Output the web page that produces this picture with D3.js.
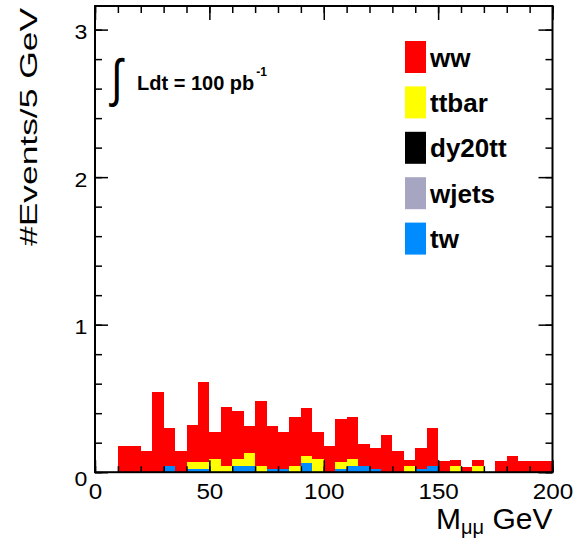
<!DOCTYPE html>
<html>
<head>
<meta charset="utf-8" />
<title>M mumu stack</title>
<script src="https://d3js.org/d3.v7.min.js"></script>
<style>
  body { margin: 0; background: #fff; }
  svg text { font-family: "Liberation Sans", Arial, Helvetica, sans-serif; fill: #000; }
</style>
</head>
<body>
<svg id="plot" width="581" height="546"></svg>
<script>
// 5 GeV bins from 0 to 200 GeV
var binWidth = 5;
var binLow = d3.range(0, 200, binWidth);

// events per bin
var ww     = [0, 0, 0.18, 0.18, 0.146, 0.546, 0.258, 0.146, 0.25, 0.54,
              0.18, 0.40, 0.328, 0.18, 0.439, 0.29, 0.255, 0.328, 0.325, 0.183,
              0.18, 0.289, 0.286, 0.147, 0.146, 0.254, 0.146, 0.039, 0.146, 0.256,
              0.074, 0.039, 0.037, 0.039, 0, 0.074, 0.11, 0.074, 0.074, 0.074];
var ttbar  = [0, 0, 0, 0, 0, 0, 0, 0, 0.05, 0.05,
              0.09, 0.044, 0.043, 0.086, 0.044, 0, 0, 0.044, 0.046, 0.087,
              0, 0.049, 0.048, 0, 0, 0, 0, 0.044, 0, 0,
              0, 0.044, 0, 0.044, 0, 0, 0, 0, 0, 0];
var dy20tt = [0, 0, 0, 0, 0, 0, 0, 0, 0, 0,
              0, 0, 0, 0, 0, 0, 0, 0, 0, 0,
              0, 0, 0, 0, 0, 0, 0, 0, 0, 0,
              0, 0, 0, 0, 0, 0, 0, 0, 0, 0];
var wjets  = [0, 0, 0, 0, 0, 0, 0, 0, 0, 0,
              0, 0, 0, 0, 0, 0, 0, 0, 0, 0,
              0, 0, 0, 0, 0, 0, 0, 0, 0, 0,
              0, 0, 0, 0, 0, 0, 0, 0, 0, 0];
var tw     = [0, 0, 0, 0, 0, 0, 0.042, 0, 0.02, 0.02,
              0, 0, 0.044, 0.044, 0, 0.02, 0.02, 0, 0.062, 0,
              0, 0.02, 0.042, 0.042, 0.02, 0, 0, 0, 0.02, 0.042,
              0, 0, 0, 0, 0, 0, 0, 0, 0, 0];

var stackKeys  = ["tw", "wjets", "dy20tt", "ttbar", "ww"];   // bottom -> top
var legendKeys = ["ww", "ttbar", "dy20tt", "wjets", "tw"];
var series = {ww: ww, ttbar: ttbar, dy20tt: dy20tt, wjets: wjets, tw: tw};
var colors = {ww: "#ff0000", ttbar: "#ffff00", dy20tt: "#000000", wjets: "#a7a6c2", tw: "#008cff"};

var xTicks = [0, 50, 100, 150, 200];
var yTicks = [0, 1, 2, 3];

var svg = d3.select("#plot");
// note: "top" is a reserved window global, so use pad* names
var padL = 95, padR = 552.5, padT = 6, padB = 472.2;

var x = d3.scaleLinear().domain([0, 200]).range([padL, padR]);
var y = d3.scaleLinear().domain([0, 3.16]).range([padB, padT]);

var table = binLow.map(function(lo, i) {
    var row = {lo: lo};
    stackKeys.forEach(function(k) { row[k] = series[k][i]; });
    return row;
});
var stacked = d3.stack().keys(stackKeys)(table);

svg.append("g").selectAll("g")
    .data(stacked)
    .enter().append("g")
    .attr("fill", function(s) { return colors[s.key]; })
    .selectAll("rect")
    .data(function(s) { return s; })
    .enter().append("rect")
    .attr("x", function(d) { return x(d.data.lo); })
    .attr("width", function(d) { return x(d.data.lo + binWidth) - x(d.data.lo); })
    .attr("y", function(d) { return y(d[1]); })
    .attr("height", function(d) { return y(d[0]) - y(d[1]); })
    .attr("shape-rendering", "crispEdges");

// axes, ROOT style: ticks inside the frame on all four sides
function styleAxis(g) {
    g.select(".domain").remove();
    g.selectAll("line").attr("stroke", "#000").attr("stroke-width", 1.5);
}
var xMinor = d3.range(0, 201, 10);
var yMinor = d3.range(0, 3.16, 0.2);

svg.append("g").attr("transform", "translate(0," + padB + ")")
    .call(d3.axisBottom(x).tickValues(xMinor).tickSize(-6).tickFormat("")).call(styleAxis);
svg.append("g").attr("transform", "translate(0," + padT + ")")
    .call(d3.axisTop(x).tickValues(xMinor).tickSize(-7).tickFormat("")).call(styleAxis);
svg.append("g").attr("transform", "translate(0," + padT + ")")
    .call(d3.axisTop(x).tickValues(xTicks).tickSize(-14).tickFormat("")).call(styleAxis);
var xAxis = svg.append("g").attr("transform", "translate(0," + padB + ")")
    .call(d3.axisBottom(x).tickValues(xTicks).tickSize(-12).tickFormat(d3.format("d")))
    .call(styleAxis);
xAxis.selectAll("text")
    .attr("y", 27).attr("dy", null)
    .attr("font-size", 22)
    .attr("transform", "scale(1.1,1)");

svg.append("g").attr("transform", "translate(" + padL + ",0)")
    .call(d3.axisLeft(y).tickValues(yMinor).tickSize(-7).tickFormat("")).call(styleAxis);
svg.append("g").attr("transform", "translate(" + padR + ",0)")
    .call(d3.axisRight(y).tickValues(yMinor).tickSize(-7).tickFormat("")).call(styleAxis);
svg.append("g").attr("transform", "translate(" + padR + ",0)")
    .call(d3.axisRight(y).tickValues(yTicks).tickSize(-14).tickFormat("")).call(styleAxis);
var yAxis = svg.append("g").attr("transform", "translate(" + padL + ",0)")
    .call(d3.axisLeft(y).tickValues(yTicks).tickSize(-13).tickFormat(d3.format("d")))
    .call(styleAxis);
yAxis.selectAll("text")
    .attr("x", -7).attr("dy", function(d) { return d === 0 ? 13 : 9; })
    .attr("font-size", 21)
    .attr("transform", "scale(1.1,1)");

// frame
svg.append("rect")
    .attr("x", padL).attr("y", padT)
    .attr("width", padR - padL).attr("height", padB - padT)
    .attr("fill", "none").attr("stroke", "#000").attr("stroke-width", 2);

// axis titles
svg.append("text")
    .attr("transform", "translate(37,8) rotate(-90)")
    .attr("text-anchor", "end")
    .attr("font-size", 24)
    .attr("textLength", 238)
    .attr("lengthAdjust", "spacingAndGlyphs")
    .text("#Events/5 GeV");

var xt = svg.append("text")
    .attr("x", padR).attr("y", 529)
    .attr("text-anchor", "end")
    .attr("font-size", 30);
xt.append("tspan").text("M");
xt.append("tspan").attr("font-size", 20).attr("dy", 5).text("\u03bc\u03bc");
xt.append("tspan").attr("dy", -5).text(" GeV");

// luminosity label
svg.append("text")
    .attr("x", 111).attr("y", 96)
    .attr("font-family", "DejaVu Sans")
    .attr("font-size", 52)
    .attr("transform", "translate(111,0) scale(0.8,1) translate(-111,0)")
    .text("\u222b");
var lumi = svg.append("text")
    .attr("x", 137).attr("y", 90)
    .attr("font-size", 20).attr("font-weight", "bold");
lumi.append("tspan").text("Ldt = 100 pb");
lumi.append("tspan").attr("font-size", 12).attr("dy", -14).attr("dx", 2).text("-1");

// legend
var legend = svg.append("g").selectAll("g")
    .data(legendKeys)
    .enter().append("g")
    .attr("transform", function(d, i) { return "translate(405," + (41 + i * 45.4) + ")"; });
legend.append("rect")
    .attr("width", 21).attr("height", 32)
    .attr("fill", function(d) { return colors[d]; });
legend.append("text")
    .attr("x", 25).attr("y", 25.5)
    .attr("font-size", 26).attr("font-weight", "bold")
    .text(function(d) { return d; });
</script>
</body>
</html>
